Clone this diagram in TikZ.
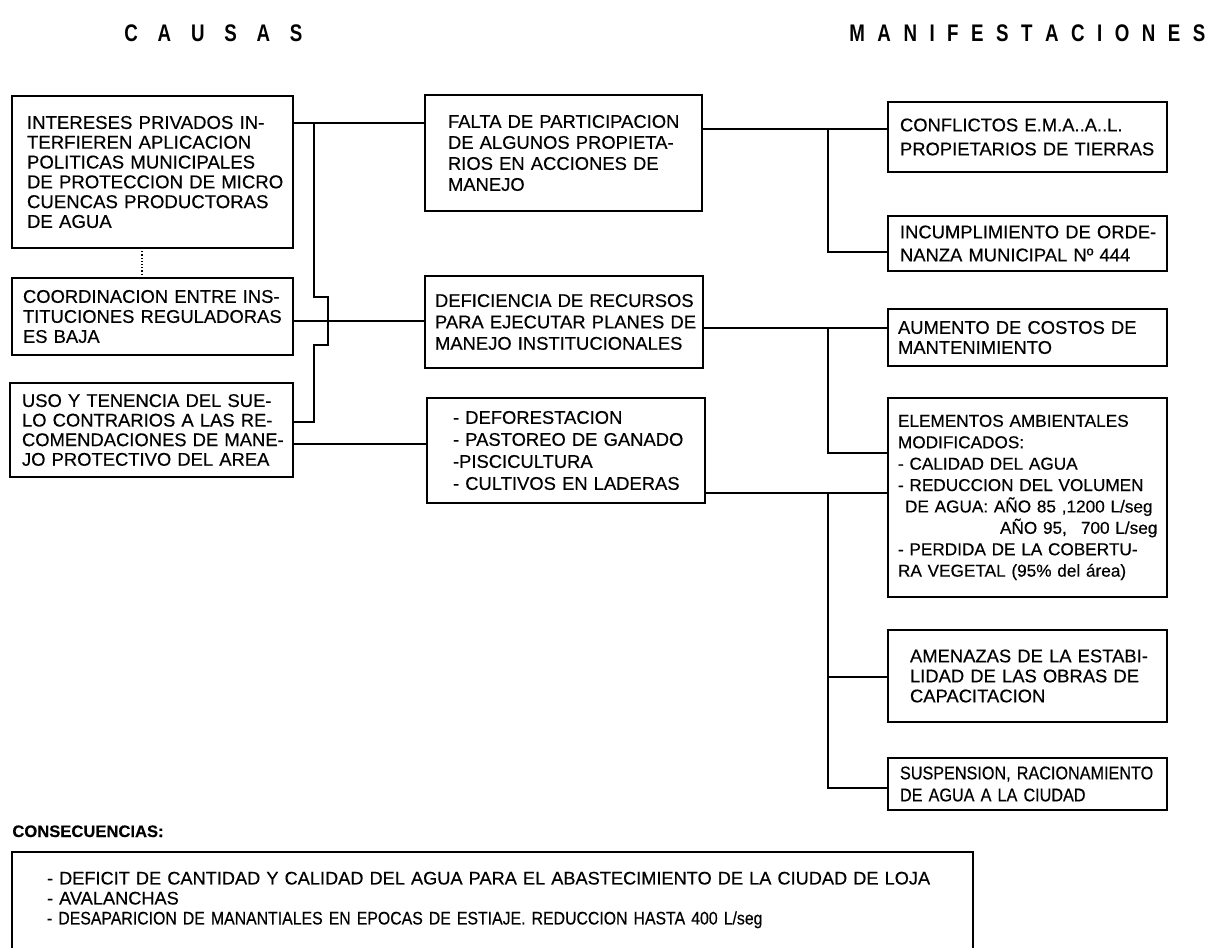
\documentclass[tikz,border=0pt]{standalone}
\usepackage{fontspec}
\setmainfont{Liberation Sans}[FakeBold=0.4]
\newfontfamily\cond{Liberation Sans}[FakeStretch=0.88,FakeBold=0.4]
\newfontfamily\condb{Liberation Sans}[FakeStretch=0.87,FakeBold=0.4]
\newfontfamily\hdr{Liberation Sans}[FakeStretch=0.78]
\newcommand\fs[2]{\fontsize{#1pt}{#2pt}\selectfont}
\begin{document}
\begin{tikzpicture}[x=0.5pt,y=-0.5pt,
  bx/.style={draw, line width=0.6pt, anchor=north west, outer sep=0pt, inner sep=0pt, align=left},
  conn/.style={line width=0.6pt},
  hd/.style={anchor=base west, inner sep=0pt, font=\hdr\bfseries\fs{12}{14}}]
\useasboundingbox (0,0) rectangle (1211,948);

% headers
\node[hd] (hc) at (124,41) {\makebox[89pt][s]{C\hfill A\hfill U\hfill S\hfill A\hfill S}};
\node[hd] (hm) at (849,41) {\makebox[178pt][s]{M\hfill A\hfill N\hfill I\hfill F\hfill E\hfill S\hfill T\hfill A\hfill C\hfill I\hfill O\hfill N\hfill E\hfill S}};

% causes
\node[bx, text width=140.5pt, minimum height=76pt, font=\fs{9.3}{9.9}] (L1) at (12,96)
 {\leftskip=7.5pt INTERESES PRIVADOS IN-\\TERFIEREN APLICACION\\POLITICAS MUNICIPALES\\DE PROTECCION DE MICRO\\CUENCAS PRODUCTORAS\\DE AGUA\par};
\node[bx, text width=140.5pt, minimum height=38.5pt, font=\fs{9.2}{10}] (L2) at (12,278)
 {\leftskip=5.5pt COORDINACION ENTRE INS-\\TITUCIONES REGULADORAS\\ES BAJA\par};
\node[bx, text width=141.5pt, minimum height=47pt, font=\fs{9.2}{9.8}] (L3) at (10,383)
 {\leftskip=6pt USO Y TENENCIA DEL SUE-\\LO CONTRARIOS A LAS RE-\\COMENDACIONES DE MANE-\\JO PROTECTIVO DEL AREA\par};

% middle
\node[bx, text width=138.5pt, minimum height=58pt, font=\fs{9.2}{10.5}] (M1) at (425,95)
 {\leftskip=11.5pt FALTA DE PARTICIPACION\\DE ALGUNOS PROPIETA-\\RIOS EN ACCIONES DE\\MANEJO\par};
\node[bx, text width=139pt, minimum height=46pt, font=\fs{9.2}{10.7}] (M2) at (425,276)
 {\leftskip=5pt DEFICIENCIA DE RECURSOS\\PARA EJECUTAR PLANES DE\\MANEJO INSTITUCIONALES\par};
\node[bx, text width=139pt, minimum height=52.5pt, font=\fs{9.2}{11}] (M3) at (427,398)
 {\leftskip=13pt - DEFORESTACION\\- PASTOREO DE GANADO\\-PISCICULTURA\\- CULTIVOS EN LADERAS\par};

% manifestations
\node[bx, text width=139.5pt, minimum height=35pt, font=\fs{9.2}{12}] (R1) at (888,102)
 {\leftskip=6pt CONFLICTOS E.M.A..A..L.\\PROPIETARIOS DE TIERRAS\par};
\node[bx, text width=139.5pt, minimum height=27.5pt, font=\fs{9.2}{11.5}] (R2) at (888,216)
 {\leftskip=6pt INCUMPLIMIENTO DE ORDE-\\NANZA MUNICIPAL Nº 444\par};
\node[bx, text width=139.5pt, minimum height=28.5pt, font=\fs{9.2}{10}] (R3) at (888,309)
 {\leftskip=5pt AUMENTO DE COSTOS DE\\MANTENIMIENTO\par};
\node[bx, text width=139.5pt, minimum height=99.5pt, font=\fs{8.6}{10.7}] (R4) at (888,398)
 {\leftskip=5pt ELEMENTOS AMBIENTALES\\MODIFICADOS:\\- CALIDAD DEL AGUA\\- REDUCCION DEL VOLUMEN\\\hspace*{3.5pt}DE AGUA: AÑO 85 ,1200 L/seg\\\hspace*{51pt}AÑO 95,\hspace{7pt}700 L/seg\\- PERDIDA DE LA COBERTU-\\RA VEGETAL (95\% del área)\par};
\node[bx, text width=139.5pt, minimum height=46pt, font=\fs{9.2}{10}] (R5) at (888,630)
 {\leftskip=11pt AMENAZAS DE LA ESTABI-\\LIDAD DE LAS OBRAS DE\\CAPACITACION\par};
\node[bx, text width=139.5pt, minimum height=26pt, font=\cond\fs{9.2}{11}] (R6) at (888,758)
 {\leftskip=6pt SUSPENSION, RACIONAMIENTO\\DE AGUA A LA CIUDAD\par};

% consequences
\node[anchor=base west, inner sep=0pt, font=\bfseries\fs{8.3}{10}] (CL) at (12,837) {CONSECUENCIAS:};
\node[bx, draw=none, text width=480.5pt, minimum height=48pt, font=\fs{9.1}{10}] (CONS) at (12,852)
 {\leftskip=17.5pt - DEFICIT DE CANTIDAD Y CALIDAD DEL AGUA PARA EL ABASTECIMIENTO DE LA CIUDAD DE LOJA\\- AVALANCHAS\\{\condb - DESAPARICION DE MANANTIALES EN EPOCAS DE ESTIAJE. REDUCCION HASTA 400 L/seg}\par};
\draw[conn] (CONS.south west) -- (CONS.north west) -- (CONS.north east) -- (CONS.south east);

% left connectors
\coordinate (h1) at (314,123);
\coordinate (h1b) at (314,422);
\coordinate (h2) at (0,321);
\coordinate (h3) at (0,444);
\coordinate (dv) at (142,0);
\draw[conn] (L1.east |- h1) -- (M1.west |- h1);
\draw[conn] (h1) -- (314,297) -- (328,297) -- (328,345) -- (314,345) -- (h1b) -- (L3.east |- h1b);
\draw[conn] (L2.east |- h2) -- (M2.west |- h2);
\draw[conn] (L3.east |- h3) -- (M3.west |- h3);
\draw[conn, densely dotted] (L1.south -| dv) -- (L2.north -| dv);

% right connectors
\coordinate (r1) at (828,129);
\coordinate (r1b) at (0,252);
\coordinate (r2) at (828,328);
\coordinate (r2b) at (0,453);
\coordinate (r3) at (828,493);
\coordinate (r3b) at (0,677);
\coordinate (r3c) at (0,788);
\draw[conn] (M1.east |- r1) -- (R1.west |- r1);
\draw[conn] (r1) |- (R2.west |- r1b);
\draw[conn] (M2.east |- r2) -- (R3.west |- r2);
\draw[conn] (r2) |- (R4.west |- r2b);
\draw[conn] (M3.east |- r3) -- (R4.west |- r3);
\draw[conn] (r3) |- (R5.west |- r3b);
\draw[conn] (r3) |- (R6.west |- r3c);
\end{tikzpicture}
\end{document}
